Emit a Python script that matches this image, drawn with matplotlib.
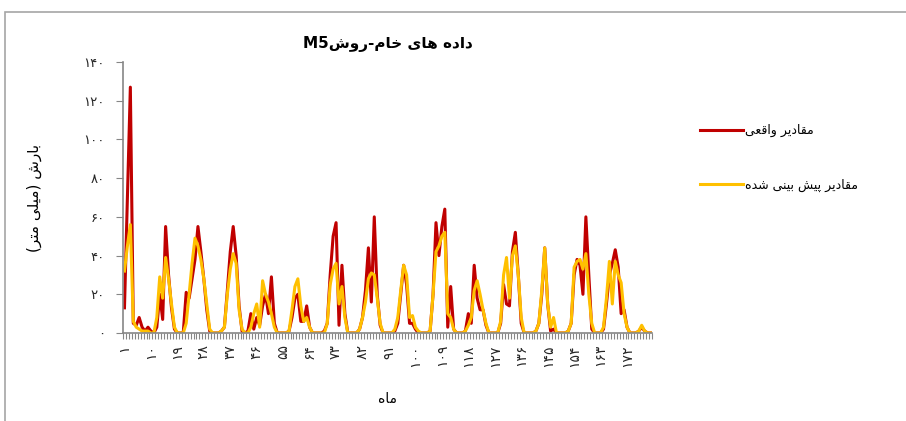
import numpy as np
import matplotlib
matplotlib.use("Agg")
import matplotlib.pyplot as plt
from matplotlib.patches import Rectangle

plt.rcParams['font.family'] = ['DejaVu Sans']

# monthly rainfall (mm): observed vs. M5 model output
months = np.arange(1, 181)
actual = [
    13, 70, 127, 5, 4, 8, 3, 1, 3, 1,
    0, 3, 20, 7, 55, 30, 13, 2, 0, 0,
    0, 21, 18, 28, 38, 55, 42, 28, 12, 1,
    0, 0, 0, 1, 3, 22, 42, 55, 40, 14,
    1, 0, 1, 10, 2, 8, 4, 14, 20, 10,
    29, 5, 0, 0, 0, 0, 1, 8, 18, 20,
    6, 6, 14, 3, 0, 0, 0, 0, 1, 5,
    30, 50, 57, 4, 35, 10, 0, 0, 0, 0,
    2, 8, 22, 44, 16, 60, 20, 4, 0, 0,
    0, 0, 1, 5, 20, 35, 25, 5, 5, 2,
    0, 0, 0, 0, 1, 20, 57, 40, 55, 64,
    3, 24, 2, 0, 0, 0, 1, 10, 5, 35,
    18, 12, 12, 4, 0, 0, 0, 0, 5, 25,
    15, 14, 42, 52, 30, 5, 0, 0, 0, 0,
    1, 5, 20, 44, 15, 1, 2, 0, 0, 0,
    0, 1, 5, 30, 38, 35, 20, 60, 30, 2,
    0, 0, 0, 2, 15, 30, 36, 43, 34, 10,
    12, 3, 0, 0, 0, 1, 3, 1, 0, 0,
]
predicted = [
    32, 45, 56, 6, 3, 2, 1, 1, 1, 0,
    0, 8, 29, 18, 39, 28, 15, 3, 0, 0,
    0, 5, 20, 36, 49, 45, 38, 28, 15, 2,
    0, 0, 0, 1, 3, 20, 33, 41, 36, 12,
    2, 0, 0, 3, 10, 15, 3, 27, 20, 16,
    10, 3, 0, 0, 0, 0, 1, 12, 24, 28,
    14, 6, 8, 3, 0, 0, 0, 0, 0, 5,
    25, 33, 36, 15, 24, 8, 0, 0, 0, 0,
    2, 8, 16, 28, 31, 30, 18, 5, 0, 0,
    0, 0, 2, 8, 22, 35, 30, 8, 9, 3,
    1, 0, 0, 0, 1, 20, 42, 45, 50, 52,
    10, 8, 2, 0, 0, 0, 1, 4, 8, 22,
    27, 20, 12, 5, 0, 0, 0, 0, 6, 30,
    39, 18, 40, 45, 30, 8, 0, 0, 0, 0,
    1, 5, 22, 44, 15, 3, 8, 0, 0, 0,
    0, 1, 5, 34, 37, 38, 33, 41, 20, 5,
    0, 0, 0, 3, 18, 37, 15, 37, 30, 26,
    10, 3, 0, 0, 0, 1, 4, 1, 0, 0,
]
xtick_months = list(range(1, 181, 9))
ytick_values = list(range(0, 141, 20))

# Persian letters -> (isolated, final, initial, medial) presentation forms
FORMS = {
    'ا': ('\uFE8D', '\uFE8E', None, None),
    'ب': ('\uFE8F', '\uFE90', '\uFE91', '\uFE92'),
    'پ': ('\uFB56', '\uFB57', '\uFB58', '\uFB59'),
    'ت': ('\uFE95', '\uFE96', '\uFE97', '\uFE98'),
    'خ': ('\uFEA5', '\uFEA6', '\uFEA7', '\uFEA8'),
    'د': ('\uFEA9', '\uFEAA', None, None),
    'ر': ('\uFEAD', '\uFEAE', None, None),
    'ش': ('\uFEB5', '\uFEB6', '\uFEB7', '\uFEB8'),
    'ع': ('\uFEC9', '\uFECA', '\uFECB', '\uFECC'),
    'ق': ('\uFED5', '\uFED6', '\uFED7', '\uFED8'),
    'ل': ('\uFEDD', '\uFEDE', '\uFEDF', '\uFEE0'),
    'م': ('\uFEE1', '\uFEE2', '\uFEE3', '\uFEE4'),
    'ن': ('\uFEE5', '\uFEE6', '\uFEE7', '\uFEE8'),
    'ه': ('\uFEE9', '\uFEEA', '\uFEEB', '\uFEEC'),
    'و': ('\uFEED', '\uFEEE', None, None),
    'ی': ('\uFEEF', '\uFEF0', '\uFEF3', '\uFEF4'),
}


def shape(text):
    out = []
    for i, ch in enumerate(text):
        if ch not in FORMS:
            out.append(ch)
            continue
        prev = text[i - 1] if i > 0 else ''
        nxt = text[i + 1] if i + 1 < len(text) else ''
        join_prev = prev in FORMS and FORMS[prev][2] is not None
        join_next = nxt in FORMS and FORMS[ch][2] is not None
        iso, fin, ini, med = FORMS[ch]
        if join_prev and join_next:
            out.append(med)
        elif join_prev:
            out.append(fin)
        elif join_next:
            out.append(ini)
        else:
            out.append(iso)
    return ''.join(out)


def rtl(text):
    # shape then lay out right-to-left, mirroring brackets
    mirror = {'(': ')', ')': '('}
    return ''.join(mirror.get(c, c) for c in reversed(shape(text)))


def fa_digits(v):
    return str(v).translate(str.maketrans('0123456789', '۰۱۲۳۴۵۶۷۸۹'))


fig = plt.figure(figsize=(9.06, 4.21), dpi=100)
fig.patches.append(Rectangle((5 / 906, -0.05), 1.1, 1 - 12 / 421 + 0.05,
                             transform=fig.transFigure, fill=False,
                             edgecolor='#a6a6a6', lw=1.2))
ax = fig.add_axes([123 / 906, (421 - 333) / 421, 529 / 906, 271 / 421])

ax.plot(months, actual, color='#c00000', lw=2.2, label=rtl('مقادیر واقعی'),
        solid_joinstyle='round')
ax.plot(months, predicted, color='#ffc000', lw=2.2,
        label=rtl('مقادیر پیش بینی شده'), solid_joinstyle='round')

ax.set_xlim(0.5, 180.5)
ax.set_ylim(0, 140)
ax.set_yticks(ytick_values)
ax.set_yticklabels([fa_digits(v) for v in ytick_values], fontsize=9.5, color='#262626')
ax.set_xticks(xtick_months)
ax.set_xticklabels([fa_digits(v) for v in xtick_months], rotation=90,
                   fontsize=10, color='#262626')
ax.set_xticks(np.arange(0.5, 181, 1), minor=True)
ax.tick_params(axis='x', which='major', length=0, pad=8)
ax.tick_params(axis='x', which='minor', length=4, width=0.8, color='#868686')
ax.tick_params(axis='y', length=5, width=0.8, color='#868686', pad=8)

for side in ['top', 'right']:
    ax.spines[side].set_visible(False)
for side in ['left', 'bottom']:
    ax.spines[side].set_color('#868686')
    ax.spines[side].set_linewidth(1.2)

ax.set_title('M5' + rtl('داده های خام-روش'), fontsize=11, fontweight='bold', pad=10)
ax.set_ylabel(rtl('بارش (میلی متر)'), fontsize=11, labelpad=30)
ax.set_xlabel(rtl('ماه'), fontsize=10, labelpad=18)

fig.legend(loc='upper left', bbox_to_anchor=(694 / 906, 1 - 118 / 421),
           frameon=False, fontsize=9, handlelength=3.4, handletextpad=0.2,
           labelspacing=3.3, borderpad=0)

fig.savefig('out.png', dpi=100)
